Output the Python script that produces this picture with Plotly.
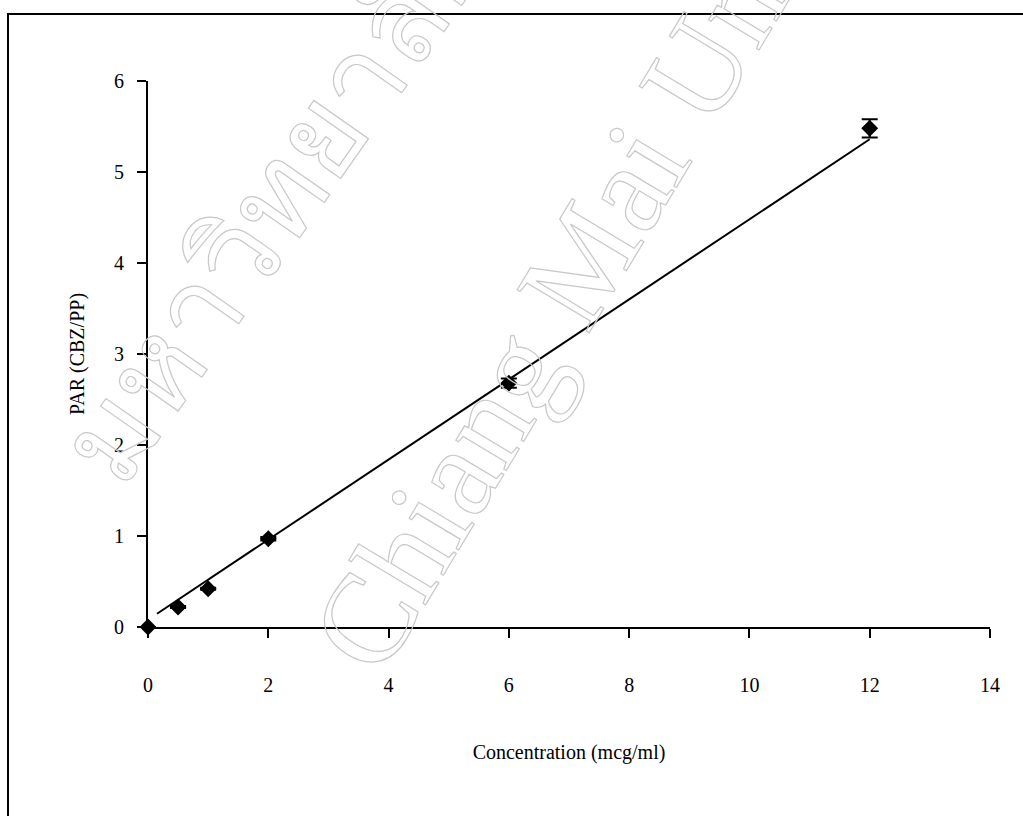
import plotly.graph_objects as go

# ---- data ----
conc = [0, 0.5, 1, 2, 6, 12]
par = [0.0, 0.22, 0.42, 0.97, 2.68, 5.48]
par_sd = [0.0, 0.01, 0.01, 0.02, 0.05, 0.10]
fit_slope = 0.44
fit_intercept = 0.08
fit_x = [0.15, 12]
x_ticks = [0, 2, 4, 6, 8, 10, 12, 14]
y_ticks = [0, 1, 2, 3, 4, 5, 6]
x_title = "Concentration (mcg/ml)"
y_title = "PAR (CBZ/PP)"
watermark_en = "Chiang Mai University"
watermark_th = "มหาวิทยาลัยเชียงใหม่"

fit_y = [fit_slope * v + fit_intercept for v in fit_x]

W, H = 1023, 816
ML, MR, MT, MB = 148, 33, 81, 189
PW, PH = W - ML - MR, H - MT - MB


def px_to_paper_x(px):
    return (px - ML) / PW


def px_to_paper_y(py):
    return (H - MB - py) / PH


FONT = "Liberation Serif, Times New Roman, serif"

fig = go.Figure()
fig.add_trace(go.Scatter(
    x=fit_x, y=fit_y, mode="lines",
    line=dict(color="black", width=2), showlegend=False, hoverinfo="skip"))
fig.add_trace(go.Scatter(
    x=conc, y=par, mode="markers",
    marker=dict(symbol="diamond", size=13, color="black"),
    error_y=dict(type="data", array=par_sd, visible=True, color="black", thickness=2, width=8),
    cliponaxis=False, showlegend=False))

axis_common = dict(
    showline=True, linecolor="black", linewidth=2,
    ticks="outside", ticklen=9, tickwidth=1.5, tickcolor="black",
    showgrid=False, zeroline=False,
    tickfont=dict(family=FONT, size=20, color="black"),
)

fig.update_layout(
    width=W, height=H,
    margin=dict(l=ML, r=MR, t=MT, b=MB, pad=0),
    paper_bgcolor="white", plot_bgcolor="white",
    xaxis=dict(range=[0, 14], tickvals=x_ticks, ticklabelstandoff=30,
               title=dict(text=x_title, font=dict(family=FONT, size=20, color="black"), standoff=50),
               **axis_common),
    yaxis=dict(range=[0, 6], tickvals=y_ticks, ticklabelstandoff=9,
               title=dict(text=y_title, font=dict(family=FONT, size=20, color="black"), standoff=24),
               **axis_common),
    shapes=[dict(type="rect", xref="paper", yref="paper",
                 x0=px_to_paper_x(8), x1=px_to_paper_x(1040),
                 y0=px_to_paper_y(840), y1=px_to_paper_y(14),
                 line=dict(color="black", width=2), layer="below")],
    annotations=[
        dict(text=watermark_en, xref="paper", yref="paper",
             x=px_to_paper_x(280), y=px_to_paper_y(697),
             xanchor="left", yanchor="bottom", showarrow=False, textangle=-59,
             font=dict(family=FONT, size=128, color="#cccccc")),
        dict(text=watermark_th, xref="paper", yref="paper",
             x=px_to_paper_x(14), y=px_to_paper_y(515),
             xanchor="left", yanchor="bottom", showarrow=False, textangle=-55,
             font=dict(family="Noto Sans, DejaVu Sans, sans-serif", size=120, color="#cccccc")),
    ],
)

post = """
document.body.style.margin = '0';
var gd = document.getElementById('{plot_id}');
function outlineWM(){
  gd.querySelectorAll('.annotation-text').forEach(function(t){
    var s = t.textContent;
    if (s.indexOf('Chiang') >= 0 || s.indexOf('\\u0e21') >= 0) {
      t.style.fill = 'none';
      t.style.stroke = '#c8c8c8';
      t.style.strokeWidth = '1.2px';
    }
  });
}
outlineWM();
if (gd.on) { gd.on('plotly_afterplot', outlineWM); }
"""

fig.write_html("out.html", post_script=post, config={"displayModeBar": False})
